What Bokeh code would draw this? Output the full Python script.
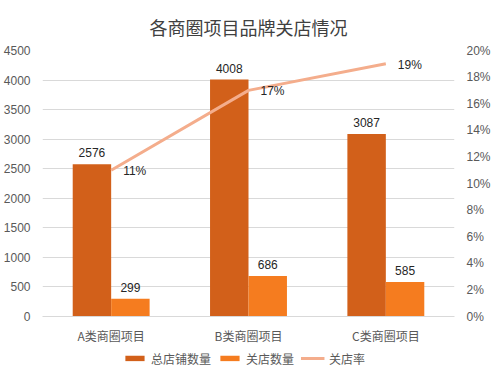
from bokeh.plotting import figure
from bokeh.layouts import column
from bokeh.models import (ColumnDataSource, Range1d, LinearAxis, NumeralTickFormatter,
                          SingleIntervalTicker, Legend, LegendItem, LabelSet, FactorRange)
from bokeh.transform import dodge
from bokeh.core.properties import value
from bokeh.embed import file_html
from bokeh.resources import INLINE

categories = ["A类商圈项目", "B类商圈项目", "C类商圈项目"]
total_stores = [2576, 4008, 3087]
closed_stores = [299, 686, 585]
close_rate = [0.11, 0.17, 0.19]
rate_labels = ["11%", "17%", "19%"]
series_names = ["总店铺数量", "关店数量", "关店率"]

CJK = "Noto Sans CJK SC"
NUM = "Liberation Sans"
DARK = "#D2601A"
ORANGE = "#F57C1F"
LINE = "#F4AD8C"
GRID = "#D9D9D9"
TXT = "#595959"

src = ColumnDataSource(dict(cat=categories, total=total_stores, closed=closed_stores,
                            rate=close_rate, rate_lbl=rate_labels,
                            total_lbl=[str(v) for v in total_stores],
                            closed_lbl=[str(v) for v in closed_stores]))

p = figure(x_range=FactorRange(*categories), y_range=Range1d(0, 4500),
           frame_width=412, frame_height=266, output_backend="svg", toolbar_location=None,
           min_border_left=35, min_border_right=37, min_border_top=50, min_border_bottom=26)
p.extra_y_ranges = {"pct": Range1d(0, 0.20)}

p.title.text = "各商圈项目品牌关店情况"
p.title.align = "center"
p.title.text_font = CJK
p.title.text_font_size = "18px"
p.title.text_font_style = "normal"
p.title.text_color = "#404040"
p.title.standoff = 22

p.vbar(x=dodge("cat", -0.14, range=p.x_range), top="total", width=0.28,
       source=src, color=DARK, line_color=None)
p.vbar(x=dodge("cat", 0.14, range=p.x_range), top="closed", width=0.28,
       source=src, color=ORANGE, line_color=None)
p.line(x="cat", y="rate", source=src, y_range_name="pct", line_color=LINE, line_width=3)

p.add_layout(LabelSet(x=dodge("cat", -0.14, range=p.x_range), y="total", text="total_lbl",
                      source=src, text_align="center", text_baseline="bottom", y_offset=7,
                      text_font=value(NUM), text_font_size="12px", text_color="#262626"))
p.add_layout(LabelSet(x=dodge("cat", 0.14, range=p.x_range), y="closed", text="closed_lbl",
                      source=src, text_align="center", text_baseline="bottom", y_offset=7,
                      text_font=value(NUM), text_font_size="12px", text_color="#262626"))
p.add_layout(LabelSet(x="cat", y="rate", text="rate_lbl", y_range_name="pct",
                      source=src, text_align="left", text_baseline="middle", x_offset=12, y_offset=-1,
                      text_font=value(NUM), text_font_size="12px", text_color="#262626"))

p.yaxis.ticker = SingleIntervalTicker(interval=500)
ax2 = LinearAxis(y_range_name="pct", ticker=SingleIntervalTicker(interval=0.02),
                 formatter=NumeralTickFormatter(format="0%"))
p.add_layout(ax2, "right")

for ax in [p.yaxis[0], ax2]:
    ax.axis_line_color = None
    ax.major_tick_line_color = None
    ax.minor_tick_line_color = None
    ax.major_label_text_font = NUM
    ax.major_label_text_font_size = "12px"
    ax.major_label_text_color = TXT
    ax.major_label_standoff = 6

p.xaxis.axis_line_color = GRID
p.xaxis.major_tick_line_color = None
p.xaxis.minor_tick_line_color = None
p.xaxis.major_label_text_font = CJK
p.xaxis.major_label_text_font_size = "12px"
p.xaxis.major_label_text_color = TXT
p.xaxis.major_label_standoff = 4

p.xgrid.grid_line_color = None
p.ygrid.grid_line_color = GRID
p.outline_line_color = None
p.x_range.range_padding = 0
p.x_range.group_padding = 0

# legend strip below the chart (same data, drawn outside its visible range)
lf = figure(width=484, height=24, output_backend="svg", toolbar_location=None,
            x_range=FactorRange(*categories), y_range=Range1d(10000, 10001),
            min_border=0, outline_line_color=None)
lf.extra_y_ranges = {"pct": Range1d(10, 11)}
lf.axis.visible = False
lf.grid.visible = False
g1 = lf.vbar(x="cat", top="total", width=0.28, source=src, color=DARK, line_color=None)
g2 = lf.vbar(x="cat", top="closed", width=0.28, source=src, color=ORANGE, line_color=None)
g3 = lf.line(x="cat", y="rate", source=src, y_range_name="pct", line_color=LINE, line_width=3)
legend = Legend(items=[LegendItem(label=series_names[0], renderers=[g1]),
                       LegendItem(label=series_names[1], renderers=[g2]),
                       LegendItem(label=series_names[2], renderers=[g3])],
                orientation="horizontal", location="center",
                label_text_font=CJK, label_text_font_size="12px", label_text_color=TXT,
                label_height=12, glyph_width=24, glyph_height=7, spacing=6, label_standoff=5,
                border_line_color=None, background_fill_alpha=0, padding=2, margin=0)
lf.add_layout(legend, "center")

layout = column(p, lf, spacing=0)
open("out.html", "w").write(file_html(layout, INLINE))
